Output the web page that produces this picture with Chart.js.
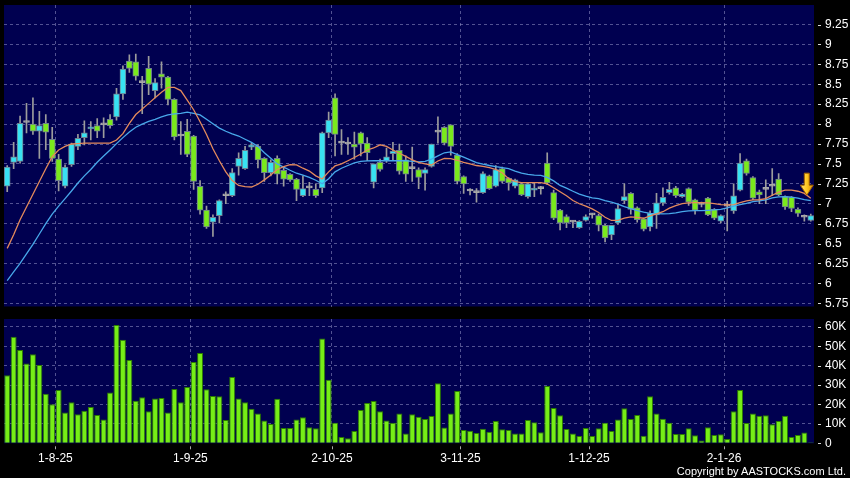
<!DOCTYPE html>
<html>
<head>
<meta charset="utf-8">
<script src="https://cdn.jsdelivr.net/npm/chart.js@4.4.1/dist/chart.umd.min.js"></script>
<style>
  html, body { margin: 0; padding: 0; background: #000; }
  #wrap { position: relative; width: 850px; height: 478px; overflow: hidden; background: #000; }
  #priceBox { position: absolute; left: 0; top: 0; width: 850px; height: 313px; }
  #volBox { position: absolute; left: 0; top: 313px; width: 850px; height: 165px; }
  #copy { position: absolute; right: 4px; top: 465px; color: #fff; font: 11px 'Liberation Sans', Arial, sans-serif; }
</style>
</head>
<body>
<div id="wrap">
  <div id="priceBox"><canvas id="priceChart"></canvas></div>
  <div id="volBox"><canvas id="volumeChart"></canvas></div>
  <div id="copy">Copyright by AASTOCKS.com Ltd.</div>
</div>
<script>
// --- data ---
const dates = [
    '22-7-25','23-7-25','24-7-25','25-7-25','28-7-25','29-7-25','30-7-25','31-7-25',
    '1-8-25','4-8-25','5-8-25','6-8-25','7-8-25','8-8-25','11-8-25','12-8-25','13-8-25','14-8-25','15-8-25',
    '18-8-25','19-8-25','20-8-25','21-8-25','22-8-25','25-8-25','26-8-25','27-8-25','28-8-25','29-8-25',
    '1-9-25','2-9-25','3-9-25','4-9-25','5-9-25','8-9-25','9-9-25','10-9-25','11-9-25','12-9-25','15-9-25',
    '16-9-25','17-9-25','18-9-25','19-9-25','22-9-25','23-9-25','24-9-25','25-9-25','26-9-25','29-9-25','30-9-25',
    '2-10-25','3-10-25','6-10-25','8-10-25','9-10-25','10-10-25','13-10-25','14-10-25','15-10-25','16-10-25',
    '17-10-25','20-10-25','21-10-25','22-10-25','23-10-25','24-10-25','27-10-25','28-10-25','30-10-25','31-10-25',
    '3-11-25','4-11-25','5-11-25','6-11-25','7-11-25','10-11-25','11-11-25','12-11-25','13-11-25','14-11-25',
    '17-11-25','18-11-25','19-11-25','20-11-25','21-11-25','24-11-25','25-11-25','26-11-25','27-11-25','28-11-25',
    '1-12-25','2-12-25','3-12-25','4-12-25','5-12-25','8-12-25','9-12-25','10-12-25','11-12-25','12-12-25',
    '15-12-25','16-12-25','17-12-25','18-12-25','19-12-25','22-12-25','23-12-25','24-12-25','29-12-25','30-12-25','31-12-25',
    '2-1-26','5-1-26','6-1-26','7-1-26','8-1-26','9-1-26','12-1-26','13-1-26','14-1-26','15-1-26','16-1-26',
    '19-1-26','20-1-26','21-1-26'
];
const monthTicks = ['1-8-25', '1-9-25', '2-10-25', '3-11-25', '1-12-25', '2-1-26'];

const opens = [
    7.22,7.52,7.53,8.02,8.00,7.91,8.01,7.81,7.56,7.22, 7.49,7.72,7.83,7.94,7.98,7.99,8.06,8.09,8.38,8.79,
    8.78,8.52,8.70,8.42,8.63,8.59,8.31,7.85,7.91,7.85, 7.22,6.92,6.77,6.85,7.10,7.10,7.47,7.44,7.71,7.72,
    7.57,7.39,7.57,7.42,7.37,7.31,7.10,7.20,7.18,7.20, 7.89,8.33,7.76,7.75,7.75,7.89,7.76,7.27,7.52,7.54,
    7.63,7.67,7.55,7.44,7.43,7.38,7.47,7.90,7.96,7.99, 7.61,7.34,7.16,7.14,7.14,7.35,7.22,7.44,7.32,7.22,
    7.25,7.09,7.17,7.19,7.51,7.14,6.92,6.84,6.77,6.70, 6.79,6.86,6.85,6.73,6.61,6.76,7.04,7.13,6.95,6.81,
    6.71,6.86,7.01,7.14,7.20,7.09,7.19,7.05,6.99,7.07, 6.93,6.78,6.97,6.91,7.17,7.54,7.33,7.15,7.18,7.22,
    7.31,7.09,7.08,6.93,6.83,6.79
];
const highs = [
    7.48,7.77,8.10,8.26,8.33,8.16,8.12,7.96,7.62,7.49, 7.76,7.87,8.04,8.03,8.07,8.08,8.12,8.45,8.73,8.87,
    8.88,8.60,8.85,8.57,8.78,8.60,8.32,8.03,8.06,7.86, 7.29,6.97,6.86,7.05,7.15,7.44,7.64,7.72,7.76,7.74,
    7.58,7.55,7.60,7.45,7.38,7.32,7.35,7.27,7.25,7.90, 8.15,8.38,7.93,7.83,7.90,7.90,7.83,7.50,7.56,7.70,
    7.77,7.75,7.60,7.71,7.45,7.45,7.75,8.09,7.97,7.99, 7.63,7.35,7.19,7.19,7.40,7.36,7.48,7.46,7.33,7.31,
    7.27,7.26,7.26,7.22,7.64,7.17,6.93,6.86,6.79,6.79, 6.86,6.88,6.87,6.74,6.73,6.99,7.25,7.14,6.96,6.82,
    6.91,7.13,7.20,7.27,7.22,7.13,7.20,7.06,7.02,7.08, 6.94,6.86,7.03,7.25,7.63,7.56,7.34,7.17,7.30,7.44,
    7.38,7.10,7.09,6.95,6.86,6.87
];
const lows = [
    7.15,7.44,7.51,7.89,7.87,7.57,7.68,7.53,7.16,7.20, 7.47,7.68,7.74,7.80,7.83,7.83,7.95,8.05,8.31,8.65,
    8.55,8.13,8.37,8.33,8.45,8.24,7.80,7.62,7.59,7.18, 6.87,6.69,6.59,6.76,7.00,7.09,7.36,7.43,7.68,7.45,
    7.28,7.35,7.25,7.22,7.28,7.04,7.09,7.10,7.08,7.14, 7.83,7.60,7.62,7.62,7.56,7.60,7.54,7.20,7.41,7.52,
    7.55,7.37,7.28,7.28,7.19,7.17,7.46,7.76,7.74,7.61, 7.25,7.13,7.11,7.02,7.13,7.18,7.21,7.26,7.17,7.20,
    7.10,7.07,7.09,7.12,7.24,6.80,6.67,6.70,6.70,6.69, 6.78,6.82,6.66,6.52,6.55,6.74,7.00,6.87,6.77,6.66,
    6.66,6.69,6.98,7.12,7.08,7.08,6.98,6.87,6.96,6.85, 6.80,6.76,6.66,6.88,7.16,7.36,7.05,7.00,7.00,7.10,
    7.10,6.93,6.90,6.84,6.78,6.78
];
const closes = [
    7.46,7.59,8.01,8.02,7.91,7.98,7.90,7.57,7.29,7.46, 7.75,7.82,7.89,7.96,7.91,7.99,7.98,8.38,8.69,8.70,
    8.60,8.52,8.50,8.52,8.59,8.31,7.84,7.85,7.62,7.28, 6.92,6.71,6.83,7.04,7.10,7.39,7.57,7.67,7.74,7.55,
    7.39,7.52,7.37,7.31,7.30,7.18,7.19,7.20,7.10,7.89, 8.05,7.87,7.76,7.75,7.71,7.75,7.64,7.50,7.43,7.59,
    7.66,7.41,7.37,7.44,7.33,7.43,7.75,7.90,7.76,7.72, 7.28,7.25,7.16,7.14,7.38,7.19,7.43,7.28,7.26,7.30,
    7.11,7.25,7.19,7.19,7.26,6.82,6.76,6.76,6.77,6.78, 6.84,6.86,6.73,6.57,6.73,6.94,7.09,6.93,6.80,6.68,
    6.88,7.01,7.08,7.18,7.10,7.12,7.02,6.92,6.99,6.86, 6.82,6.85,6.97,7.10,7.51,7.38,7.07,7.11,7.18,7.22,
    7.11,6.96,6.94,6.88,6.83,6.85
];
const ma10 = [
    6.44,6.61,6.80,6.96,7.12,7.28,7.44,7.59,7.675,7.72, 7.75,7.755,7.76,7.76,7.76,7.76,7.76,7.80,7.88,8.01,
    8.12,8.19,8.26,8.33,8.40,8.46,8.46,8.42,8.30,8.18, 8.03,7.87,7.69,7.54,7.40,7.29,7.23,7.215,7.21,7.245,
    7.30,7.36,7.43,7.466,7.49,7.487,7.446,7.41,7.35,7.31, 7.40,7.475,7.50,7.54,7.58,7.625,7.675,7.70,7.74,7.72,
    7.675,7.634,7.595,7.55,7.52,7.50,7.487,7.537,7.57,7.566, 7.546,7.52,7.50,7.48,7.47,7.454,7.43,7.39,7.315,7.277,
    7.265,7.265,7.265,7.265,7.25,7.20,7.15,7.10,7.04,7.00, 6.97,6.935,6.89,6.83,6.79,6.79,6.82,6.835,6.83,6.818,
    6.847,6.872,6.90,6.944,6.977,7.002,7.01,7.014,7.014,7.01, 7.002,6.99,6.985,6.99,7.014,7.035,7.048,7.05,7.064,7.107,
    7.145,7.17,7.17,7.157,7.13,7.07
];
const ma20 = [
    6.035,6.145,6.25,6.37,6.49,6.62,6.75,6.87,6.97,7.065, 7.16,7.26,7.35,7.43,7.52,7.60,7.675,7.755,7.83,7.90,
    7.96,8.00,8.035,8.06,8.09,8.115,8.127,8.135,8.15,8.135, 8.115,8.06,8.005,7.95,7.91,7.876,7.85,7.81,7.77,7.72,
    7.64,7.57,7.50,7.46,7.42,7.383,7.36,7.33,7.295,7.25, 7.315,7.40,7.446,7.48,7.512,7.533,7.537,7.54,7.54,7.54,
    7.54,7.54,7.54,7.533,7.525,7.533,7.56,7.60,7.64,7.65, 7.617,7.584,7.55,7.516,7.496,7.48,7.466,7.454,7.44,7.41,
    7.383,7.37,7.36,7.356,7.33,7.287,7.23,7.195,7.157,7.12, 7.095,7.073,7.065,7.04,7.02,6.996,6.965,6.94,6.914,6.894,
    6.88,6.876,6.872,6.876,6.885,6.90,6.91,6.914,6.914,6.918, 6.923,6.93,6.948,6.969,6.99,7.006,7.027,7.035,7.048,7.073,
    7.086,7.09,7.082,7.07,7.052,7.04
];
// volume in thousands of shares
const volumeK = [
    35.1,54.9,48,41.1,45.8,40.3,25.5,20.1,27.4,15.8, 21.1,14.9,16.8,18.7,14.6,12.2,26.1,60.9,53.3,42.9,
    21.9,23.7,16.5,23.1,23.3,15.9,27.9,21.1,29,41.8, 46.5,27.8,24.3,24.2,12,34.1,23.1,21.1,17.8,15.4,
    11.8,9.9,23,7.9,7.9,12.3,13.4,8.2,7.7,54, 32.7,10.6,3.3,2.6,6.3,17.1,20.7,21.8,16.5,11.8,
    10.6,15.4,5.1,14.9,13.7,12.5,14,30.9,8.1,15.3, 26.9,6.9,6.5,5.3,7.5,6,11.5,7.2,6.9,5,
    5,12,10.8,5.7,29.5,18.2,14.4,7.4,5.1,3.8, 7.9,3.8,7.7,10.6,6.3,12.3,18,12.5,14.6,3.9,
    24.2,15.3,12.7,10.6,4.8,4.8,7.7,4.1,1.4,8.2, 4.3,4.6,2.2,16.5,27.4,10.5,15.4,14.2,14.4,9.8,
    11.5,14.2,3.3,4.3,5.5,0.5
];
const priceTicks = [5.75, 6, 6.25, 6.5, 6.75, 7, 7.25, 7.5, 7.75, 8, 8.25, 8.5, 8.75, 9, 9.25];
const volumeTicks = [0, 10, 20, 30, 40, 50, 60];

// --- styling ---
const PLOT_BG = '#000050';
const GRID = 'rgba(150, 150, 200, 0.55)';
const UP = '#38e2f2';
const DOWN = '#7aea1c';
const FLAT = '#a8a8a8';
const FONT = { family: "'Liberation Sans', Arial, sans-serif", size: 12 };

Chart.defaults.animation = false;
Chart.defaults.font.family = FONT.family;

const monthIdx = monthTicks.map(d => dates.indexOf(d));
const monthGrid = ctx => monthIdx.includes(ctx.index) ? GRID : 'rgba(0,0,0,0)';

// fixed axis sizes so the plot areas land where the original panels are
const fixBox = (w, h) => s => {
    if (w !== null) s.width = w;
    if (h !== null) s.height = h;
    s.paddingTop = 0;
    s.paddingBottom = 0;
    s.paddingLeft = 0;
    s.paddingRight = 0;
};

// navy plot area + little tick dashes outside the plot
const panelDeco = {
    id: 'panelDeco',
    beforeDraw(chart) {
        const { ctx, chartArea: a } = chart;
        ctx.save();
        ctx.fillStyle = PLOT_BG;
        ctx.fillRect(a.left, a.top, a.width, a.height);
        ctx.restore();
    },
    afterDraw(chart) {
        const { ctx, chartArea: a } = chart;
        const y = chart.scales.y, x = chart.scales.x;
        ctx.save();
        ctx.strokeStyle = '#d8d8d8';
        ctx.lineWidth = 1;
        y.ticks.forEach(t => {
            const py = Math.round(y.getPixelForValue(t.value)) + 0.5;
            ctx.beginPath();
            ctx.moveTo(a.right + 4, py);
            ctx.lineTo(a.right + 7, py);
            ctx.stroke();
        });
        if (chart.options.plugins.panelDeco.xTicks) {
            const half = (x.getPixelForValue(1) - x.getPixelForValue(0)) / 2;
            ctx.strokeStyle = '#aaaaaa';
            monthIdx.forEach(i => {
                const px = Math.round(x.getPixelForValue(i) - half) + 0.5;
                ctx.beginPath();
                ctx.moveTo(px, a.bottom + 3);
                ctx.lineTo(px, a.bottom + 6);
                ctx.stroke();
            });
        }
        ctx.restore();
    }
};

// yellow arrow marker at the end of the averages
const lastArrow = {
    id: 'lastArrow',
    afterDatasetsDraw(chart) {
        const { ctx } = chart;
        const last = dates.length - 1;
        const cx = chart.scales.x.getPixelForValue(last) - 4;
        const tip = chart.scales.y.getPixelForValue(ma10[last]) - 3;
        const g = ctx.createLinearGradient(cx - 7, 0, cx + 7, 0);
        g.addColorStop(0, '#ffe680');
        g.addColorStop(0.5, '#ffc820');
        g.addColorStop(1, '#d88a00');
        ctx.save();
        ctx.beginPath();
        ctx.moveTo(cx - 2.5, tip - 22);
        ctx.lineTo(cx + 2.5, tip - 22);
        ctx.lineTo(cx + 2.5, tip - 10);
        ctx.lineTo(cx + 6.5, tip - 10);
        ctx.lineTo(cx, tip);
        ctx.lineTo(cx - 6.5, tip - 10);
        ctx.lineTo(cx - 2.5, tip - 10);
        ctx.closePath();
        ctx.fillStyle = g;
        ctx.fill();
        ctx.strokeStyle = '#a06000';
        ctx.lineWidth = 1;
        ctx.stroke();
        ctx.restore();
    }
};

const candleColor = i => closes[i] > opens[i] ? UP : (closes[i] < opens[i] ? DOWN : FLAT);

// --- 1. Price panel (candles + moving averages) ---
new Chart(document.getElementById('priceChart'), {
    type: 'bar',
    data: {
        labels: dates,
        datasets: [
            {
                label: 'MA10',
                type: 'line',
                data: ma10,
                borderColor: '#e48a5c',
                borderWidth: 1.3,
                pointRadius: 0,
                order: 1
            },
            {
                label: 'MA20',
                type: 'line',
                data: ma20,
                borderColor: '#48a8ea',
                borderWidth: 1.3,
                pointRadius: 0,
                order: 1
            },
            {
                label: 'Body',
                data: opens.map((o, i) => [o, closes[i]]),
                backgroundColor: ctx => candleColor(ctx.dataIndex),
                borderColor: ctx => closes[ctx.dataIndex] === opens[ctx.dataIndex] ? FLAT : '#6f7f90',
                borderWidth: 1,
                borderSkipped: false,
                barThickness: 6,
                minBarLength: 2,
                grouped: false,
                order: 2
            },
            {
                label: 'Range',
                data: lows.map((l, i) => [l, highs[i]]),
                backgroundColor: '#9c9c9c',
                barThickness: 1,
                grouped: false,
                order: 3
            }
        ]
    },
    options: {
        responsive: true,
        maintainAspectRatio: false,
        layout: { padding: { left: 4, top: 5, right: 0, bottom: 0 } },
        plugins: {
            legend: { display: false },
            tooltip: { enabled: false },
            panelDeco: { xTicks: false }
        },
        scales: {
            x: {
                ticks: { display: false, autoSkip: false },
                grid: { color: monthGrid, drawTicks: false },
                border: { display: false, dash: [3, 3] },
                afterFit: fixBox(null, 6.5)
            },
            y: {
                position: 'right',
                min: 5.71,
                max: 9.495,
                afterBuildTicks: s => { s.ticks = priceTicks.map(v => ({ value: v })); },
                afterFit: fixBox(36, null),
                ticks: { color: '#ffffff', font: FONT, padding: 11, callback: v => String(v) },
                grid: { color: GRID, drawTicks: false },
                border: { display: false, dash: [3, 3] }
            }
        }
    },
    plugins: [panelDeco, lastArrow]
});

// --- 2. Volume panel ---
new Chart(document.getElementById('volumeChart'), {
    type: 'bar',
    data: {
        labels: dates,
        datasets: [{
            label: 'Volume',
            data: volumeK,
            backgroundColor: '#76ee16',
            borderColor: '#2c7c00',
            borderWidth: 1,
            borderSkipped: 'bottom',
            barPercentage: 0.93,
            categoryPercentage: 1.0
        }]
    },
    options: {
        responsive: true,
        maintainAspectRatio: false,
        layout: { padding: { left: 4, top: 6, right: 0, bottom: 0 } },
        plugins: {
            legend: { display: false },
            tooltip: { enabled: false },
            panelDeco: { xTicks: true }
        },
        scales: {
            x: {
                ticks: {
                    autoSkip: false,
                    maxRotation: 0,
                    minRotation: 0,
                    color: '#ffffff',
                    font: FONT,
                    padding: 8,
                    labelOffset: -3.2,
                    callback: (v, i) => monthTicks.includes(dates[i]) ? dates[i] : ''
                },
                grid: { color: monthGrid, drawTicks: false },
                border: { display: false, dash: [3, 3] },
                afterFit: fixBox(null, 34.7)
            },
            y: {
                position: 'right',
                min: 0,
                max: 64,
                afterBuildTicks: s => { s.ticks = volumeTicks.map(v => ({ value: v })); },
                afterFit: fixBox(36, null),
                ticks: { color: '#ffffff', font: FONT, padding: 11, callback: v => v === 0 ? '0' : v + 'K' },
                grid: { color: ctx => ctx.tick && ctx.tick.value === 0 ? 'rgba(0,0,0,0)' : GRID, drawTicks: false },
                border: { display: false, dash: [3, 3] }
            }
        }
    },
    plugins: [panelDeco]
});
</script>
</body>
</html>
